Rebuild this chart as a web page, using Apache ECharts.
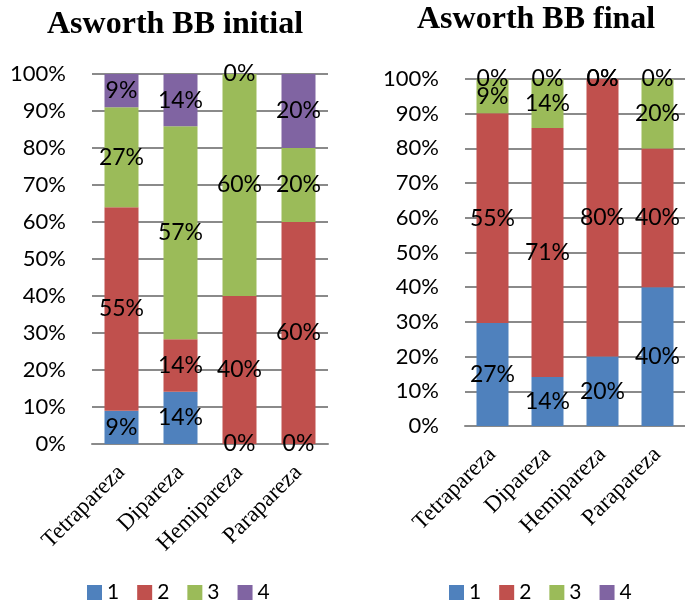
<!DOCTYPE html>
<html>
<head>
<meta charset="utf-8">
<script src="https://cdn.jsdelivr.net/npm/echarts@6/dist/echarts.min.js"></script>
<style>
  html, body { margin: 0; padding: 0; background: #fff; }
  #chart { width: 685px; height: 600px; }
</style>
</head>
<body>
<div id="chart"></div>
<script>
// categories
const categories = ['Tetrapareza', 'Dipareza', 'Hemipareza', 'Parapareza']
const seriesNames = ['1', '2', '3', '4']
const colors = ['#4F81BD', '#C0504D', '#9BBB59', '#8064A2']

// Asworth BB initial (%)
const initial1 = [9, 14, 0, 0]
const initial2 = [55, 14, 40, 60]
const initial3 = [27, 57, 60, 20]
const initial4 = [9, 14, 0, 20]

// Asworth BB final (%)
const final1 = [27, 14, 20, 40]
const final2 = [55, 71, 80, 40]
const final3 = [9, 14, 0, 20]
const final4 = [0, 0, 0, 0]

const initialSets = [initial1, initial2, initial3, initial4]
const finalSets = [final1, final2, final3, final4]

const labelFont = 'Lato'
const serifFont = '"Liberation Serif", "Times New Roman", serif'
const gridGray = '#8a8a8a'

// 100% stacked: share of each column, label keeps the original value
function buildSeries (sets, axisIdx, barW) {
  const totals = categories.map((c, i) => sets.reduce((s, arr) => s + arr[i], 0))
  return sets.map((arr, k) => ({
    name: seriesNames[k],
    type: 'bar',
    stack: 'st' + axisIdx,
    xAxisIndex: axisIdx,
    yAxisIndex: axisIdx,
    barWidth: barW,
    itemStyle: { color: colors[k] },
    label: {
      show: true,
      position: 'inside',
      color: '#000',
      fontFamily: labelFont,
      fontSize: 23,
      formatter: p => arr[p.dataIndex] + '%'
    },
    data: arr.map((v, i) => totals[i] ? v / totals[i] * 100 : 0)
  }))
}

function yAxisOpt (idx) {
  return {
    type: 'value',
    gridIndex: idx,
    min: 0,
    max: 100,
    interval: 10,
    axisLine: { show: false },
    axisTick: { show: false },
    axisLabel: {
      formatter: '{value}%',
      color: '#000',
      fontFamily: labelFont,
      fontSize: 22,
      margin: 26
    },
    splitLine: { lineStyle: { color: gridGray, width: 2 } }
  }
}

function xAxisOpt (idx) {
  return {
    type: 'category',
    gridIndex: idx,
    data: categories,
    axisLine: { lineStyle: { color: gridGray, width: 2 } },
    axisTick: { show: false },
    axisLabel: {
      rotate: 45,
      interval: 0,
      color: '#000',
      fontFamily: serifFont,
      fontSize: 23,
      margin: 25
    }
  }
}

function legendOpt (left) {
  return {
    data: seriesNames,
    left: left,
    top: 582,
    padding: 0,
    itemWidth: 15,
    itemHeight: 15,
    itemGap: 18,
    icon: 'rect',
    textStyle: { color: '#000', fontFamily: labelFont, fontSize: 21 }
  }
}

const chart = echarts.init(document.getElementById('chart'))
chart.setOption({
  animation: false,
  title: [
    { text: 'Asworth BB initial', left: 47, top: 9, padding: 0,
      textStyle: { fontFamily: serifFont, fontWeight: 'bold', fontSize: 32, color: '#000' } },
    { text: 'Asworth BB final', left: 417, top: 4, padding: 0,
      textStyle: { fontFamily: serifFont, fontWeight: 'bold', fontSize: 32, color: '#000' } }
  ],
  legend: [legendOpt(87), legendOpt(449)],
  grid: [
    { left: 92, top: 74, width: 236, height: 370 },
    { left: 465, top: 79, width: 222, height: 347 }
  ],
  xAxis: [xAxisOpt(0), xAxisOpt(1)],
  yAxis: [yAxisOpt(0), yAxisOpt(1)],
  series: [...buildSeries(initialSets, 0, 34), ...buildSeries(finalSets, 1, 32)]
})
</script>
</body>
</html>
